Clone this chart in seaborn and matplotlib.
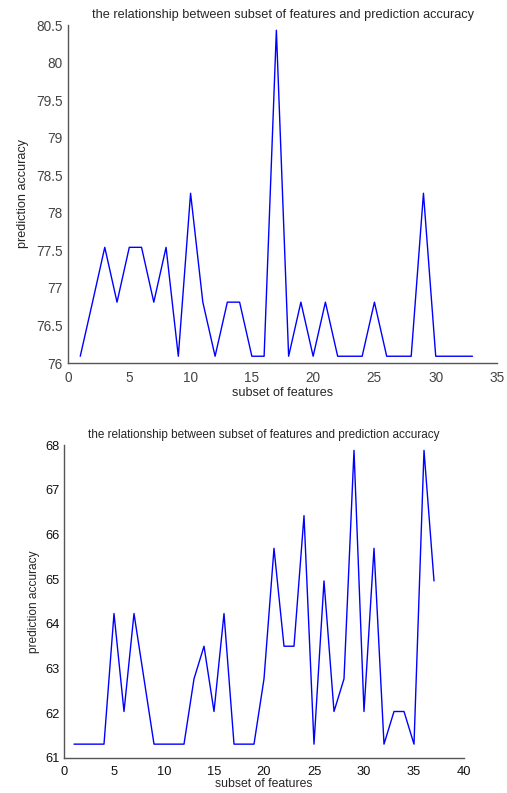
import matplotlib
matplotlib.use("Agg")
import matplotlib.pyplot as plt
import seaborn as sns
import pandas as pd

# 数据：从参考图读取
subset_a = list(range(1, 34))
acc_a = [76.09, 76.81, 77.54, 76.81, 77.54, 77.54, 76.81, 77.54, 76.09, 78.26,
         76.81, 76.09, 76.81, 76.81, 76.09, 76.09, 80.43, 76.09, 76.81, 76.09,
         76.81, 76.09, 76.09, 76.09, 76.81, 76.09, 76.09, 76.09, 78.26, 76.09,
         76.09, 76.09, 76.09]

subset_b = list(range(1, 38))
acc_b = [61.31, 61.31, 61.31, 61.31, 64.23, 62.04, 64.23, 62.77, 61.31, 61.31,
         61.31, 61.31, 62.77, 63.50, 62.04, 64.23, 61.31, 61.31, 61.31, 62.77,
         65.69, 63.50, 63.50, 66.42, 61.31, 64.96, 62.04, 62.77, 67.88, 62.04,
         65.69, 61.31, 62.04, 62.04, 61.31, 67.88, 64.96]

title = "the relationship between subset of features and prediction accuracy"
xticks_a = list(range(0, 36, 5))
yticks_a = [76, 76.5, 77, 77.5, 78, 78.5, 79, 79.5, 80, 80.5]
xticks_b = list(range(0, 41, 5))
yticks_b = list(range(61, 69))

sns.set_style("white")
plt.rcParams['font.family'] = ['Liberation Sans', 'DejaVu Sans']

fig = plt.figure(figsize=(5.07, 7.93), dpi=100)
ax1 = fig.add_axes([68 / 507, 1 - 363 / 793, 429 / 507, 338 / 793])
ax2 = fig.add_axes([64 / 507, 1 - 758 / 793, 400 / 507, 313 / 793])

df_a = pd.DataFrame({"subset": subset_a, "acc": acc_a})
df_b = pd.DataFrame({"subset": subset_b, "acc": acc_b})

sns.lineplot(data=df_a, x="subset", y="acc", ax=ax1, color="#0000ff", linewidth=1.0)
sns.lineplot(data=df_b, x="subset", y="acc", ax=ax2, color="#0000ff", linewidth=1.0)

# 图 1
ax1.set_xlim(0, 35)
ax1.set_ylim(76, 80.5)
ax1.set_xticks(xticks_a)
ax1.set_yticks(yticks_a)
ax1.set_yticklabels([f"{v:g}" for v in yticks_a])
ax1.tick_params(direction="in", length=4, width=0.8, colors="#333333",
                labelsize=9.8, labelcolor="#444444")
ax1.tick_params(axis="x", pad=6)
ax1.tick_params(axis="y", pad=4)
ax1.set_title(title, fontsize=9.2, pad=5)
ax1.set_xlabel("subset of features", fontsize=9.1, labelpad=1)
ax1.set_ylabel("prediction accuracy", fontsize=9.1, labelpad=5)

# 图 2
ax2.set_xlim(0, 40)
ax2.set_ylim(61, 68)
ax2.set_xticks(xticks_b)
ax2.set_yticks(yticks_b)
ax2.tick_params(direction="in", length=4, width=0.8, colors="#222222",
                labelsize=9.3, labelcolor="#111111")
ax2.tick_params(axis="x", pad=6)
ax2.tick_params(axis="y", pad=3)
ax2.set_title(title, fontsize=8.5, pad=5)
ax2.set_xlabel("subset of features", fontsize=8.8, labelpad=0)
ax2.set_ylabel("prediction accuracy", fontsize=8.6, labelpad=4)

for ax in (ax1, ax2):
    sns.despine(ax=ax)
    for side in ("left", "bottom"):
        ax.spines[side].set_color("#555555")
        ax.spines[side].set_linewidth(1.0)

fig.savefig("out.png", dpi=100)
